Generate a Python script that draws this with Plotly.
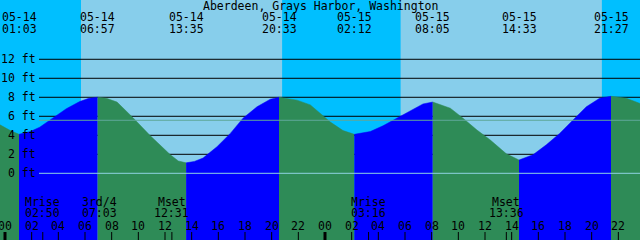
import plotly.graph_objects as go

# ---------------- data ----------------
title = "Aberdeen, Grays Harbor, Washington"

# tide extremes (day index 0 = 05-14, 1 = 05-15)
tide_dates = ["05-14", "05-14", "05-14", "05-14", "05-15", "05-15", "05-15", "05-15"]
tide_times = ["01:03", "06:57", "13:35", "20:33", "02:12", "08:05", "14:33", "21:27"]
tide_days = [0, 0, 0, 0, 1, 1, 1, 1]

# tide curve (hours since 05-14 00:00, feet)
curve_hours = [-0.375, 0.4, 1.05, 1.9, 2.6, 3.4, 4.6, 5.6, 6.3, 6.95,
               7.6, 8.4, 9.6, 10.9, 12.4, 13.0, 13.583,
               14.2, 14.85, 15.9, 16.9, 17.85, 18.9, 19.9, 20.55,
               21.9, 22.9, 24.4, 25.35, 26.2,
               27.4, 28.35, 29.4, 30.4, 31.35, 32.083,
               33.4, 34.35, 35.4, 36.4, 37.6, 38.55,
               39.6, 40.6, 41.6, 42.6, 43.6, 44.6, 45.45,
               46.6, 47.625]
curve_ft = [5.1, 4.5, 4.1, 4.4, 4.85, 5.6, 6.8, 7.55, 7.9, 8.0,
            7.9, 7.5, 5.85, 3.95, 1.95, 1.3, 1.1,
            1.25, 1.6, 2.8, 4.2, 5.8, 7.0, 7.8, 8.0,
            7.7, 7.2, 5.4, 4.5, 4.1,
            4.4, 5.0, 5.8, 6.65, 7.3, 7.5,
            6.85, 5.8, 4.55, 3.5, 2.05, 1.4,
            1.95, 3.0, 4.2, 5.6, 7.0, 7.9, 8.1,
            7.9, 7.35]

# sun events: sunrise, sunset, sunrise, sunset
sun_times = ["05:42", "20:47", "05:41", "20:46"]
sun_days = [0, 0, 1, 1]

# moon events
moon_labels = ["Mrise", "3rd/4", "Mset", "Mrise", "Mset"]
moon_times = ["02:50", "07:03", "12:31", "03:16", "13:36"]
moon_days = [0, 0, 0, 1, 1]
moon_ticks = [True, False, True, True, True]

# axis labels
ft_levels = [0, 2, 4, 6, 8, 10, 12]
ft_labels = ["0 ft", "2 ft", "4 ft", "6 ft", "8 ft", "10 ft", "12 ft"]
msl_ft = 5.58
hour_ticks = list(range(0, 48, 2))
hour_labels = ["%02d" % (h % 24) for h in hour_ticks]

# ---------------- styling ----------------
NIGHT = "#00BFFF"
DAY = "#87CEEB"
RISE = "#0000FF"
FALL = "#2E8B57"
FONT = dict(family="DejaVu Sans Mono", size=11.5, color="black")
X0, X1 = -0.375, 47.625
Y0, Y1 = -7.02, 18.24


def hrs(t, d):
    h, m = t.split(":")
    return d * 24 + int(h) + int(m) / 60.0


tide_x = [hrs(t, d) for t, d in zip(tide_times, tide_days)]
sun_x = [hrs(t, d) for t, d in zip(sun_times, sun_days)]
moon_x = [hrs(t, d) for t, d in zip(moon_times, moon_days)]

fig = go.Figure()

# water segments between extremes
bounds = [X0] + tide_x + [X1]
for a, b in zip(bounds[:-1], bounds[1:]):
    idx = [i for i, x in enumerate(curve_hours) if a - 0.01 <= x <= b + 0.01]
    xs = [curve_hours[i] for i in idx]
    ys = [curve_ft[i] for i in idx]
    color = RISE if ys[-1] > ys[0] else FALL
    fig.add_trace(go.Scatter(x=[xs[0], xs[-1]], y=[Y0 - 3, Y0 - 3], mode="lines",
                             line=dict(width=0, color=color), hoverinfo="skip"))
    fig.add_trace(go.Scatter(x=xs, y=ys, mode="lines", fill="tonexty",
                             fillcolor=color, line=dict(width=0.5, color=color),
                             hoverinfo="skip"))

shapes = []
# sky
edges = [X0 - 1] + sun_x + [X1 + 1]
for i, (a, b) in enumerate(zip(edges[:-1], edges[1:])):
    shapes.append(dict(type="rect", xref="x", yref="paper", x0=a, x1=b, y0=0, y1=1,
                       fillcolor=NIGHT if i % 2 == 0 else DAY, line_width=0, layer="below"))
# grid lines (behind water)
for lv in ft_levels[1:]:
    shapes.append(dict(type="line", xref="x", yref="y", x0=2.55, x1=X1 + 1, y0=lv, y1=lv,
                       line=dict(color="black", width=1), layer="below"))
# datum and mean level lines (over water)
shapes.append(dict(type="line", xref="x", yref="y", x0=2.55, x1=X1 + 1, y0=0, y1=0,
                   line=dict(color="#8FD3E3", width=1), layer="above"))
shapes.append(dict(type="line", xref="x", yref="y", x0=2.55, x1=X1 + 1, y0=msl_ft, y1=msl_ft,
                   line=dict(color="#5FA89A", width=1), layer="above"))
# hour ticks
for h in hour_ticks:
    shapes.append(dict(type="line", xref="x", yref="paper", x0=h, x1=h, y0=0, y1=8 / 240,
                       line=dict(color="black", width=3 if h % 24 == 0 else 1), layer="above"))
for mx, tk in zip(moon_x, moon_ticks):
    if tk:
        shapes.append(dict(type="line", xref="x", yref="paper", x0=mx, x1=mx, y0=0, y1=8 / 240,
                           line=dict(color="black", width=1), layer="above"))

ann = []
ann.append(dict(text=title, xref="paper", yref="paper", x=0.5, y=1 - 5.5 / 240,
                showarrow=False, font=FONT, xanchor="center", yanchor="middle", borderpad=0))
for x, d, t in zip(tide_x, tide_dates, tide_times):
    ann.append(dict(text=d, xref="x", yref="paper", x=x, y=1 - 17.5 / 240,
                    showarrow=False, font=FONT, xanchor="center", yanchor="middle", borderpad=0))
    ann.append(dict(text=t, xref="x", yref="paper", x=x, y=1 - 29 / 240,
                    showarrow=False, font=FONT, xanchor="center", yanchor="middle", borderpad=0))
for lv, lb in zip(ft_levels, ft_labels):
    ann.append(dict(text=lb, xref="paper", yref="y", x=36.5 / 640, y=lv,
                    showarrow=False, font=FONT, xanchor="right", yanchor="middle", borderpad=0))
for x, lb, t in zip(moon_x, moon_labels, moon_times):
    ann.append(dict(text=lb, xref="x", yref="paper", x=x, y=1 - 201.5 / 240,
                    showarrow=False, font=FONT, xanchor="center", yanchor="middle", borderpad=0))
    ann.append(dict(text=t, xref="x", yref="paper", x=x, y=1 - 212.5 / 240,
                    showarrow=False, font=FONT, xanchor="center", yanchor="middle", borderpad=0))
for h, lb in zip(hour_ticks, hour_labels):
    ann.append(dict(text=lb, xref="x", yref="paper", x=h, y=1 - 225.5 / 240,
                    showarrow=False, font=FONT, xanchor="center", yanchor="middle", borderpad=0))

fig.update_layout(
    width=640, height=240, margin=dict(l=0, r=0, t=0, b=0),
    paper_bgcolor=DAY, plot_bgcolor=DAY, showlegend=False,
    xaxis=dict(range=[X0, X1], visible=False, fixedrange=True),
    yaxis=dict(range=[Y0, Y1], visible=False, fixedrange=True),
    shapes=shapes, annotations=ann,
)
fig.write_html("out.html")
